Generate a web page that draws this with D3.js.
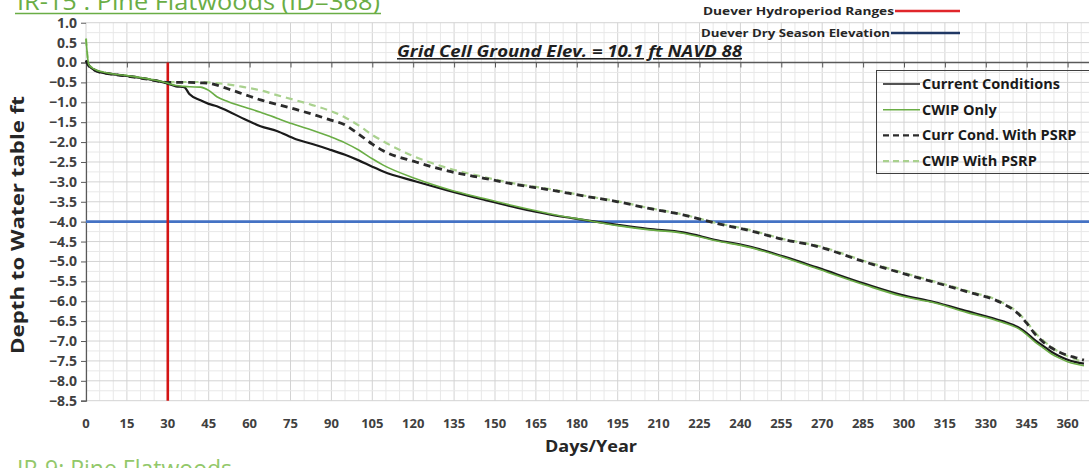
<!DOCTYPE html>
<html>
<head>
<meta charset="utf-8">
<script src="https://cdn.jsdelivr.net/npm/d3@7"></script>
<style>
  html, body { margin: 0; padding: 0; background: #ffffff; }
  svg { display: block; }
  text { font-family: "Open Sans", "DejaVu Sans", sans-serif; }
</style>
</head>
<body>
<svg id="chart" width="1089" height="468"></svg>
<script>
// Days of the year at which the water-table depth was sampled
const days = [0,1,2,4,7,10,15,20,25,30,33,36,38,42,45,48,52,58,64,70,77,83,89,95,100,105,109,121,133,146,158,170,183,195,206,219,231,243,256,268,286,299,311,323,336,342,345,348,351,354,357,360,363,366];

// Depth to water table (ft) for each scenario
const currentConditions = [0.05,-0.08,-0.14,-0.22,-0.27,-0.30,-0.34,-0.39,-0.45,-0.53,-0.60,-0.62,-0.80,-0.95,-1.04,-1.10,-1.22,-1.42,-1.60,-1.72,-1.93,-2.05,-2.18,-2.32,-2.46,-2.62,-2.74,-2.99,-3.22,-3.45,-3.65,-3.82,-3.96,-4.08,-4.18,-4.27,-4.46,-4.62,-4.88,-5.15,-5.57,-5.84,-6.02,-6.25,-6.50,-6.66,-6.80,-6.98,-7.12,-7.27,-7.38,-7.47,-7.53,-7.57];
const cwipOnly = [0.60,-0.05,-0.12,-0.20,-0.25,-0.29,-0.33,-0.38,-0.44,-0.52,-0.58,-0.60,-0.61,-0.62,-0.70,-0.86,-0.98,-1.12,-1.25,-1.40,-1.57,-1.70,-1.85,-2.02,-2.20,-2.42,-2.58,-2.92,-3.19,-3.42,-3.62,-3.80,-3.96,-4.10,-4.20,-4.29,-4.48,-4.64,-4.90,-5.18,-5.60,-5.87,-6.04,-6.28,-6.53,-6.69,-6.84,-7.02,-7.17,-7.32,-7.43,-7.52,-7.58,-7.62];
const currCondPsrp = [0.05,-0.08,-0.14,-0.22,-0.27,-0.30,-0.34,-0.39,-0.45,-0.50,-0.50,-0.50,-0.50,-0.51,-0.52,-0.57,-0.66,-0.80,-0.94,-1.05,-1.18,-1.30,-1.43,-1.57,-1.80,-2.05,-2.22,-2.50,-2.73,-2.91,-3.07,-3.20,-3.36,-3.50,-3.66,-3.83,-4.04,-4.22,-4.45,-4.62,-5.02,-5.29,-5.52,-5.76,-6.05,-6.32,-6.55,-6.82,-7.02,-7.17,-7.28,-7.36,-7.42,-7.48];
const cwipPsrp = [0.60,-0.05,-0.12,-0.20,-0.25,-0.29,-0.33,-0.38,-0.44,-0.50,-0.49,-0.49,-0.49,-0.49,-0.50,-0.52,-0.55,-0.62,-0.70,-0.82,-0.95,-1.07,-1.20,-1.38,-1.58,-1.82,-1.98,-2.38,-2.66,-2.88,-3.05,-3.18,-3.35,-3.49,-3.65,-3.82,-4.03,-4.20,-4.44,-4.60,-5.00,-5.27,-5.50,-5.74,-6.03,-6.30,-6.52,-6.78,-6.98,-7.15,-7.28,-7.38,-7.46,-7.54];

// Tick values
const xTicks = [0,15,30,45,60,75,90,105,120,135,150,165,180,195,210,225,240,255,270,285,300,315,330,345,360];
const yTicks = [1.0,0.5,0.0,-0.5,-1.0,-1.5,-2.0,-2.5,-3.0,-3.5,-4.0,-4.5,-5.0,-5.5,-6.0,-6.5,-7.0,-7.5,-8.0,-8.5];

// Reference lines
const hydroperiodDay = 30;
const drySeasonDepth = -4.0;

const svg = d3.select("#chart");

const x = d3.scaleLinear().domain([0, 360]).range([86, 1067.6]);
const y = d3.scaleLinear().domain([0, -8.5]).range([62.5, 400.7]);
const xRight = 1089;

// Grid: fine and coarse lines
const grid = svg.append("g");
d3.range(0, 375, 5).forEach(d => {
  if (x(d) > xRight) return;
  grid.append("line")
    .attr("x1", x(d)).attr("x2", x(d)).attr("y1", y(1)).attr("y2", y(-8.5))
    .attr("stroke", d % 15 === 0 ? "#d3d3d3" : "#e8e8e8").attr("stroke-width", 1);
});
d3.range(-34, 5).map(i => i * 0.25).forEach(v => {
  grid.append("line")
    .attr("x1", x(0)).attr("x2", xRight).attr("y1", y(v)).attr("y2", y(v))
    .attr("stroke", Math.abs(v * 2 - Math.round(v * 2)) < 1e-6 ? "#d3d3d3" : "#e8e8e8").attr("stroke-width", 1);
});

// Y axis
const yAxis = d3.axisLeft(y).tickValues(yTicks).tickFormat(d3.format(".1f")).tickSize(5).tickPadding(4);
const yG = svg.append("g").attr("transform", `translate(${x(0)},0)`).call(yAxis);
yG.select(".domain").attr("stroke", "#595959").attr("stroke-width", 1.2);
yG.selectAll(".tick line").attr("stroke", "#595959");
yG.selectAll(".tick text").attr("fill", "#404040").attr("font-size", 14).attr("font-weight", 700)
  .attr("font-family", "'Open Sans', sans-serif");

// X axis along the zero line, labels below the plot
const xAxis = d3.axisBottom(x).tickValues(xTicks).tickSize(5).tickFormat("");
const xG = svg.append("g").attr("transform", `translate(0,${y(0)})`).call(xAxis);
xG.select(".domain").remove();
xG.append("line").attr("x1", x(0)).attr("x2", xRight).attr("y1", 0).attr("y2", 0)
  .attr("stroke", "#595959").attr("stroke-width", 1.4);
xG.selectAll(".tick line").attr("stroke", "#595959");

svg.append("g").selectAll("text").data(xTicks).join("text")
  .attr("x", d => x(d)).attr("y", 428)
  .attr("text-anchor", "middle")
  .attr("fill", "#404040").attr("font-size", 13).attr("font-weight", 700)
  .text(d => d);

// Axis titles
svg.append("text")
  .attr("transform", "translate(24,225) rotate(-90)")
  .attr("text-anchor", "middle").attr("font-size", 18).attr("font-weight", 700).attr("fill", "#262626")
  .attr("textLength", 258).attr("lengthAdjust", "spacingAndGlyphs")
  .text("Depth to Water table ft");
svg.append("text")
  .attr("x", 591).attr("y", 452).attr("text-anchor", "middle")
  .attr("font-size", 16).attr("font-weight", 700).attr("fill", "#262626")
  .attr("textLength", 92).attr("lengthAdjust", "spacingAndGlyphs")
  .text("Days/Year");

// Reference lines
svg.append("line")
  .attr("x1", x(0)).attr("x2", xRight).attr("y1", y(drySeasonDepth)).attr("y2", y(drySeasonDepth))
  .attr("stroke", "#4472c4").attr("stroke-width", 2.6);
svg.append("line")
  .attr("x1", x(hydroperiodDay)).attr("x2", x(hydroperiodDay)).attr("y1", y(0)).attr("y2", y(-8.5))
  .attr("stroke", "#d41414").attr("stroke-width", 2.6);

// Series
const series = [
  { name: "CWIP With PSRP", values: cwipPsrp, color: "#a9d18e", width: 2.2, dash: "7,5" },
  { name: "Curr Cond. With PSRP", values: currCondPsrp, color: "#2b2b2b", width: 2.8, dash: "7,5" },
  { name: "Current Conditions", values: currentConditions, color: "#1a1a1a", width: 2.2, dash: null },
  { name: "CWIP Only", values: cwipOnly, color: "#6aad45", width: 1.6, dash: null }
];
const line = d3.line().x(d => x(d[0])).y(d => y(d[1])).curve(d3.curveMonotoneX);
series.forEach(s => {
  svg.append("path")
    .datum(days.map((d, i) => [d, s.values[i]]))
    .attr("d", line)
    .attr("fill", "none")
    .attr("stroke", s.color)
    .attr("stroke-width", s.width)
    .attr("stroke-dasharray", s.dash)
    .attr("stroke-linejoin", "round");
});

// Ground elevation note
svg.append("text")
  .attr("x", 397).attr("y", 57)
  .attr("font-size", 15.5).attr("font-weight", 700).attr("font-style", "italic")
  .attr("text-decoration", "underline").attr("fill", "#1f1f1f")
  .attr("textLength", 345).attr("lengthAdjust", "spacingAndGlyphs")
  .text("Grid Cell Ground Elev. = 10.1 ft NAVD 88");

// Reference-line legend
const refLegend = [
  { label: "Duever Hydroperiod Ranges", color: "#e0262b", yPos: 11, x0: 895, width: 191 },
  { label: "Duever Dry Season Elevation", color: "#203864", yPos: 33, x0: 891, width: 189 }
];
refLegend.forEach(r => {
  svg.append("text").attr("x", r.x0 - 1).attr("y", r.yPos + 4).attr("text-anchor", "end")
    .attr("font-size", 11).attr("font-weight", 700).attr("fill", "#262626")
    .attr("textLength", r.width).attr("lengthAdjust", "spacingAndGlyphs")
    .text(r.label);
  svg.append("line").attr("x1", r.x0).attr("x2", 960).attr("y1", r.yPos).attr("y2", r.yPos)
    .attr("stroke", r.color).attr("stroke-width", 2.6);
});

// Series legend
const legend = svg.append("g");
legend.append("rect").attr("x", 876.5).attr("y", 70.5).attr("width", 230).attr("height", 103)
  .attr("fill", "none").attr("stroke", "#404040").attr("stroke-width", 1);
const legendOrder = [series[2], series[3], series[1], series[0]];
legendOrder.forEach((s, i) => {
  const ly = 84 + i * 25.7;
  legend.append("line").attr("x1", 883).attr("x2", 920).attr("y1", ly).attr("y2", ly)
    .attr("stroke", s.color).attr("stroke-width", s.dash ? 2.2 : 1.6)
    .attr("stroke-dasharray", s.dash ? "6,4" : null);
  legend.append("text").attr("x", 922).attr("y", ly + 5)
    .attr("font-size", 14.5).attr("font-weight", 700).attr("fill", "#1a1a1a")
    .text(s.name);
});

// Section headings above and below
svg.append("text").attr("x", 17).attr("y", 10)
  .attr("font-size", 24).attr("fill", "#6aad45")
  .attr("textLength", 363).attr("lengthAdjust", "spacingAndGlyphs")
  .text("IR-15 : Pine Flatwoods (ID=368)");
svg.append("line").attr("x1", 15).attr("x2", 381).attr("y1", 13.5).attr("y2", 13.5)
  .attr("stroke", "#6aad45").attr("stroke-width", 1.5);
svg.append("text").attr("x", 17).attr("y", 477)
  .attr("font-size", 24).attr("fill", "#92c86a")
  .attr("textLength", 215).attr("lengthAdjust", "spacingAndGlyphs")
  .text("IR-9: Pine Flatwoods");
</script>
</body>
</html>
